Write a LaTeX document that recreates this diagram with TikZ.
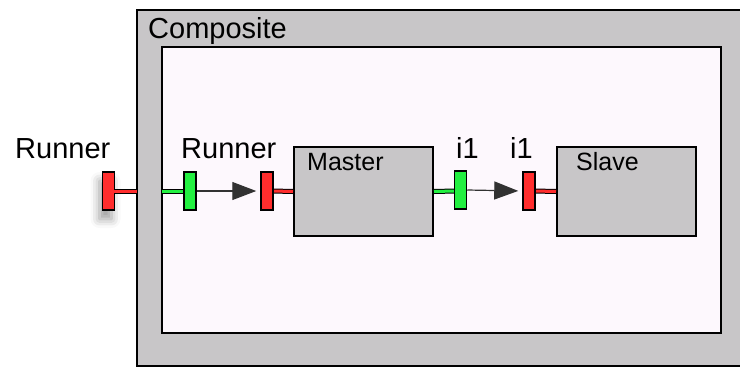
\documentclass[tikz,border=0pt]{standalone}
\usepackage{fontspec}
\setmainfont{Liberation Sans}
\usetikzlibrary{arrows.meta,shadows.blur}

\definecolor{framegray}{RGB}{200,198,200}
\definecolor{innerpink}{RGB}{253,248,253}
\definecolor{portred}{RGB}{255,45,45}
\definecolor{portgreen}{RGB}{35,240,65}
\definecolor{flowgray}{RGB}{50,50,50}

\tikzset{
  bar/.style={draw=black, line width=1.5pt, minimum width=12pt, minimum height=38pt, inner sep=0pt},
  inport/.style={bar, fill=portred},
  outport/.style={bar, fill=portgreen},
  block/.style={draw=black, line width=2pt, fill=framegray, minimum width=139pt, minimum height=89pt, inner sep=0pt},
  big/.style={anchor=base west, inner sep=0pt, font=\fontsize{29}{34}\selectfont},
  small/.style={anchor=base west, inner sep=0pt, font=\fontsize{25}{30}\selectfont},
  flow/.style={draw=flowgray, line width=1.2pt, -{Triangle[length=24pt,width=18pt]}, shorten >=4pt}
}

\begin{document}
\begin{tikzpicture}[x=1pt,y=-1pt]
            \useasboundingbox (0,0) rectangle (740,368);
            \filldraw[fill=framegray, draw=black, line width=2pt] (137,10) rectangle (750,366);
            \filldraw[fill=innerpink, draw=black, line width=2pt] (162,47) rectangle (721,333);
            \node[big] (complbl) at (148,38) {Composite};

            % blocks
            \node[block] (master) at (363.5,191.5) {};
            \node[block] (slave) at (626.5,191.5) {};
            \node[small] (masterlbl) at (307,170) {Master};
            \node[small] (slavelbl) at (576,170) {Slave};

            % ports
            \coordinate (edgeout) at (137,191);
            \coordinate (edgein) at (162,191);
            \node[inport, blur shadow={shadow xshift=-3pt, shadow yshift=-9pt, shadow blur radius=9pt, shadow opacity=40}] (runext) at (108.5,191) {};
            \draw[line width=5pt] (115,191) -- (edgeout);
            \draw[line width=3pt, portred] (114,191) -- (edgeout);
            \draw[line width=5pt] (edgein) -- (184,191);
            \draw[line width=3pt, portgreen] (edgein) -- (184,191);
            \node[outport] (runin) at (190,191) {};
            \draw[line width=5pt] (master.west) -- (273,191);
            \draw[line width=3pt, portred] (master.west) -- (273,191);
            \node[inport] (runmaster) at (267,191) {};
            \draw[line width=5pt] (master.east) -- (455,191);
            \draw[line width=3pt, portgreen] (master.east) -- (455,191);
            \node[outport] (i1out) at (460.5,190) {};
            \draw[line width=5pt] (slave.west) -- (535,191);
            \draw[line width=3pt, portred] (slave.west) -- (535,191);
            \node[inport] (i1in) at (529,191) {};

            % labels
            \node[big] (runextlbl) at (15,158) {Runner};
            \node[big] (runinlbl) at (181,158) {Runner};
            \node[big] (i1outlbl) at (456,158) {i1};
            \node[big] (i1inlbl) at (510,158) {i1};

            % flows
            \draw[flow] (runin.east) -- (runmaster.west);
            \draw[flow] (i1out.east) -- (i1in.west);
        \end{tikzpicture}
\end{document}
